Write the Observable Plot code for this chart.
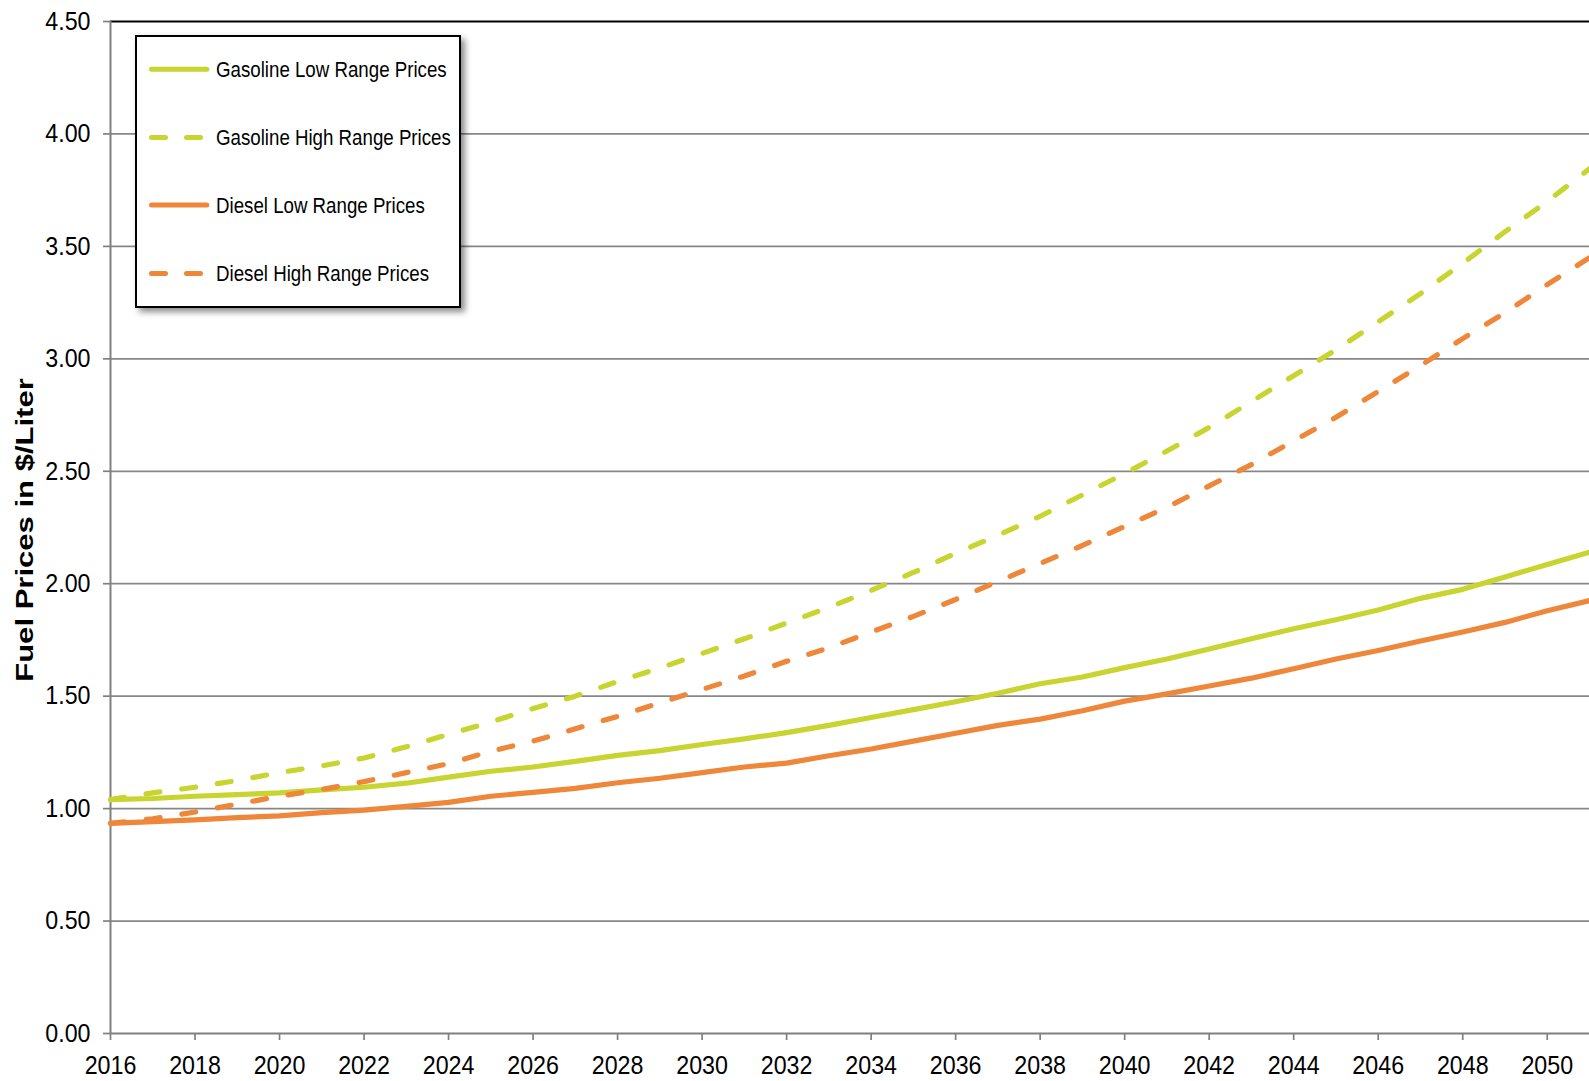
<!DOCTYPE html>
<html>
<head>
<meta charset="utf-8">
<script src="https://cdn.jsdelivr.net/npm/d3@7"></script>
<script src="https://cdn.jsdelivr.net/npm/@observablehq/plot@0.6"></script>
<style>
  html, body { margin: 0; padding: 0; background: #fff; }
  #chart svg { display: block; }
</style>
</head>
<body>
<div id="chart"></div>
<script>
// ---- Data ----
const years = [2016, 2017, 2018, 2019, 2020, 2021, 2022, 2023, 2024, 2025,
               2026, 2027, 2028, 2029, 2030, 2031, 2032, 2033, 2034, 2035,
               2036, 2037, 2038, 2039, 2040, 2041, 2042, 2043, 2044, 2045,
               2046, 2047, 2048, 2049, 2050, 2051];

const gasolineLow = [1.04, 1.045, 1.055, 1.062, 1.07, 1.083, 1.095, 1.113, 1.14, 1.166,
                     1.185, 1.21, 1.237, 1.258, 1.285, 1.31, 1.338, 1.37, 1.405, 1.44,
                     1.475, 1.513, 1.555, 1.585, 1.627, 1.665, 1.71, 1.755, 1.80, 1.84,
                     1.883, 1.935, 1.975, 2.03, 2.085, 2.14];

const gasolineHigh = [1.04, 1.07, 1.095, 1.125, 1.16, 1.19, 1.225, 1.275, 1.33, 1.385,
                      1.445, 1.50, 1.565, 1.625, 1.69, 1.755, 1.825, 1.895, 1.97, 2.05,
                      2.135, 2.215, 2.30, 2.395, 2.49, 2.59, 2.695, 2.81, 2.925, 3.04,
                      3.165, 3.29, 3.425, 3.565, 3.70, 3.845];

const dieselLow = [0.934, 0.942, 0.95, 0.96, 0.968, 0.982, 0.993, 1.01, 1.028, 1.055,
                   1.072, 1.09, 1.115, 1.135, 1.16, 1.185, 1.202, 1.235, 1.265, 1.30,
                   1.335, 1.37, 1.398, 1.435, 1.478, 1.51, 1.545, 1.58, 1.622, 1.665,
                   1.703, 1.745, 1.785, 1.828, 1.88, 1.925];

const dieselHigh = [0.935, 0.955, 0.985, 1.02, 1.055, 1.085, 1.12, 1.16, 1.20, 1.255,
                    1.30, 1.355, 1.41, 1.47, 1.53, 1.59, 1.655, 1.715, 1.785, 1.855,
                    1.93, 2.01, 2.09, 2.17, 2.255, 2.34, 2.435, 2.53, 2.635, 2.74,
                    2.855, 2.97, 3.09, 3.205, 3.33, 3.45];

const seriesNames = ["Gasoline Low Range Prices", "Gasoline High Range Prices",
                     "Diesel Low Range Prices", "Diesel High Range Prices"];
const xTicks = [2016, 2018, 2020, 2022, 2024, 2026, 2028, 2030, 2032, 2034,
                2036, 2038, 2040, 2042, 2044, 2046, 2048, 2050];
const yTicks = [0, 0.5, 1, 1.5, 2, 2.5, 3, 3.5, 4, 4.5];
const yLabel = "Fuel Prices in $/Liter";

// ---- Styles ----
const FONT = "'Liberation Sans', Arial, Helvetica, sans-serif";
const GREEN = "#c8d430";
const ORANGE = "#ee873a";
const GRID = "#878787";
const AXIS = "#808080";
const DASH = "14 22";

const rows = vals => years.map((year, i) => ({year, value: vals[i]}));
const seriesData = [gasolineLow, gasolineHigh, dieselLow, dieselHigh].map(rows);
const seriesStyle = [
  {stroke: GREEN, dash: null},
  {stroke: GREEN, dash: DASH},
  {stroke: ORANGE, dash: null},
  {stroke: ORANGE, dash: DASH}
];

const lineMarks = seriesData.map((data, i) =>
  Plot.line(data, {
    x: "year", y: "value",
    stroke: seriesStyle[i].stroke,
    strokeWidth: 5.2,
    strokeLinecap: "round",
    strokeLinejoin: "round",
    strokeDasharray: seriesStyle[i].dash ?? undefined
  })
);

const plot = Plot.plot({
  width: 1589,
  height: 1081,
  marginLeft: 110,
  marginRight: 0,
  marginTop: 21,
  marginBottom: 48,
  style: {
    fontFamily: FONT,
    fontSize: "25px",
    color: "#000",
    background: "#fff",
    overflow: "visible"
  },
  x: {domain: [2016, 2051]},
  y: {domain: [0, 4.5]},
  marks: [
    Plot.ruleY(yTicks.filter(d => d > 0 && d < 4.5), {stroke: GRID, strokeWidth: 1.7}),
    Plot.ruleY([4.5], {stroke: "#000", strokeWidth: 2.2}),
    Plot.axisY({ticks: yTicks, tickFormat: d3.format(".2f"), tickSize: 7, tickPadding: 13,
                stroke: AXIS, strokeWidth: 1.7, label: null}),
    Plot.axisX({ticks: xTicks, tickFormat: d => String(d), tickSize: 7, tickPadding: 15,
                stroke: AXIS, strokeWidth: 1.7, label: null}),
    Plot.ruleY([0], {stroke: AXIS, strokeWidth: 2}),
    Plot.ruleX([2016], {stroke: AXIS, strokeWidth: 2}),
    ...lineMarks
  ]
});

document.getElementById("chart").appendChild(plot);

// ---- Post-processing: condensed tick labels (the original looks vertically stretched) ----
const svg = d3.select(plot);
function squeeze(sel, sx, sy) {
  sel.each(function() {
    const t = this.getAttribute("transform");
    if (t && t.includes("translate")) {
      this.setAttribute("transform", `${t} scale(${sx},${sy})`);
    } else {
      const x = +(this.getAttribute("x") || 0), y = +(this.getAttribute("y") || 0);
      this.setAttribute("transform", `${t || ""} translate(${x},${y}) scale(${sx},${sy}) translate(${-x},${-y})`);
    }
  });
}
svg.selectAll("g").filter(function() {
  const a = this.getAttribute("aria-label") || "";
  return a.endsWith("tick label");
}).selectAll("text").call(squeeze, 0.93, 1.03);

// ---- Y axis title ----
svg.append("text")
  .attr("transform", "translate(33,530) rotate(-90) scale(1.35,1)")
  .attr("text-anchor", "middle")
  .attr("font-family", FONT)
  .attr("font-weight", "bold")
  .attr("font-size", 23)
  .attr("fill", "#000")
  .text(yLabel);

// ---- Legend (boxed, with drop shadow, inside plot area) ----
const defs = svg.append("defs");
const filt = defs.append("filter").attr("id", "lgshadow")
  .attr("x", "-10%").attr("y", "-10%").attr("width", "130%").attr("height", "130%");
filt.append("feDropShadow").attr("dx", 4).attr("dy", 4).attr("stdDeviation", 3)
  .attr("flood-color", "#000").attr("flood-opacity", 0.45);

const lg = svg.append("g").attr("aria-label", "legend");
lg.append("rect")
  .attr("x", 136).attr("y", 36).attr("width", 324).attr("height", 271)
  .attr("fill", "#fff").attr("stroke", "#000").attr("stroke-width", 2)
  .attr("filter", "url(#lgshadow)");

const rowY = [69.3, 137.5, 205, 273.5];
seriesNames.forEach((name, i) => {
  const st = seriesStyle[i];
  lg.append("line")
    .attr("x1", 151.5).attr("x2", st.dash ? 201 : 206.8)
    .attr("y1", rowY[i]).attr("y2", rowY[i])
    .attr("stroke", st.stroke).attr("stroke-width", 5)
    .attr("stroke-linecap", "round")
    .attr("stroke-dasharray", st.dash ? "14 21" : null);
  lg.append("text")
    .attr("transform", `translate(216,${rowY[i]}) scale(0.85,1.03)`)
    .attr("dy", "0.35em")
    .attr("text-anchor", "start")
    .attr("font-family", FONT)
    .attr("font-size", 22)
    .attr("fill", "#000")
    .text(name);
});
</script>
</body>
</html>
